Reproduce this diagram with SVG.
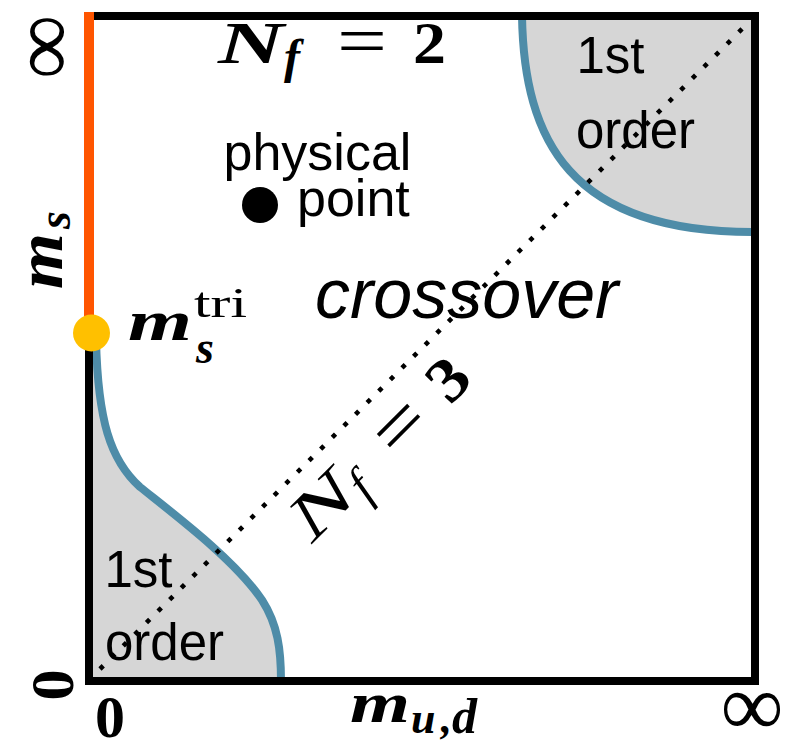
<svg xmlns="http://www.w3.org/2000/svg" width="801" height="742" viewBox="0 0 801 742">
<style>
.math{font-family:"Liberation Serif","Times New Roman",serif;fill:#000}
.bi{font-weight:bold;font-style:italic}
.b{font-weight:bold}
.it{font-style:italic}
.sans{font-family:"Liberation Sans",Arial,sans-serif;fill:#000}
.region{fill:#D6D6D6;stroke:none}
.curve{fill:none;stroke:#4E8CA8;stroke-width:8}
</style>
<rect width="801" height="742" fill="#fff"/>
<g id="first-order-regions">
<path class="region" d="M522,16 C524,140 570,232 752,232 L755,232 L755,16 Z"/>
<path class="region" d="M89,340 L96,340 C98,420 110,460 140,487 C175,515 235,560 262,600 C278,625 281,650 281,681 L89,681 Z"/>
</g>
<g id="boundaries">
<path class="curve" d="M522,12 L522,16 C524,140 570,232 752,232"/>
<path class="curve" d="M96,340 C98,420 110,460 140,487 C175,515 235,560 262,600 C278,625 281,650 281,681"/>
</g>
<g id="frame" fill="none">
<path d="M89,16 L755,16 L755,681 L89,681 L89,333" stroke="#000" stroke-width="8" stroke-linecap="square" stroke-linejoin="miter"/>
<line x1="89" y1="12" x2="89" y2="333" stroke="#FF5500" stroke-width="10"/>
</g>
<g id="connectors">
<path id="nf3-line" d="M100,669 L747,24" fill="none" stroke="#000" stroke-width="4.6" stroke-dasharray="4.6 11.8"/>
</g>
<g id="tricritical-point">
<circle cx="91.5" cy="333" r="18.5" fill="#FFC000"/>
</g>
<g id="physical-point">
<circle cx="260" cy="205" r="18" fill="#000"/>
<text class="sans" x="223.5" y="170" font-size="52">physical</text>
<text class="sans" x="297" y="216" font-size="52">point</text>
</g>
<g id="region-labels">
<text class="sans it" x="315" y="318" font-size="70">crossover</text>
<text class="sans" x="576.5" y="73" font-size="51">1st</text>
<text class="sans" x="576" y="148" font-size="51">order</text>
<text class="sans" x="104.5" y="587" font-size="51">1st</text>
<text class="sans" x="105" y="660" font-size="51">order</text>
</g>
<g id="nf2-label" transform="translate(218,63)">
<text class="math bi" x="0" y="0" font-size="60" textLength="66" lengthAdjust="spacingAndGlyphs">N</text>
<text class="math bi" x="66" y="10" font-size="48">f</text>
<text class="math" x="119" y="2" font-size="72" textLength="50" lengthAdjust="spacingAndGlyphs">=</text>
<text class="math b" x="195" y="0" font-size="60" textLength="33" lengthAdjust="spacingAndGlyphs">2</text>
</g>
<g id="nf3-label" transform="translate(312,544) rotate(-45)">
<text class="math it" x="0" y="0" font-size="64" textLength="68" lengthAdjust="spacingAndGlyphs">N</text>
<text class="math it" x="68" y="10" font-size="50">f</text>
<text class="math" x="119" y="2" font-size="74" textLength="52" lengthAdjust="spacingAndGlyphs">=</text>
<text class="math b" x="195" y="0" font-size="62" textLength="35" lengthAdjust="spacingAndGlyphs">3</text>
</g>
<g id="ms-tri-label">
<text class="math bi" x="128" y="340" font-size="56" textLength="64" lengthAdjust="spacingAndGlyphs">m</text>
<text class="math bi" x="196" y="363" font-size="46">s</text>
<text class="math" x="194" y="317" font-size="42" textLength="53" lengthAdjust="spacingAndGlyphs">tri</text>
</g>
<g id="axis-labels">
<g transform="translate(62,289) rotate(-90)">
<text class="math bi" x="0" y="0" font-size="66" textLength="56" lengthAdjust="spacingAndGlyphs">m</text>
<text class="math bi" x="60" y="8" font-size="46">s</text>
</g>
<text class="math bi" x="350" y="722" font-size="56" textLength="60" lengthAdjust="spacingAndGlyphs">m</text>
<text class="math bi" x="411" y="733" font-size="44">u</text>
<text class="math bi" x="441" y="733" font-size="44">,</text>
<text class="math bi" x="452" y="733" font-size="50">d</text>
<text class="math" transform="translate(51,47) rotate(-90)" x="0" y="22" font-size="90" text-anchor="middle">∞</text>
<text class="math b" transform="translate(73,685) rotate(-90)" x="0" y="0" font-size="62" text-anchor="middle">0</text>
<text class="math b" x="110" y="737" font-size="60" text-anchor="middle">0</text>
<text class="math" x="752" y="735" font-size="88" text-anchor="middle">∞</text>
</g>
</svg>
